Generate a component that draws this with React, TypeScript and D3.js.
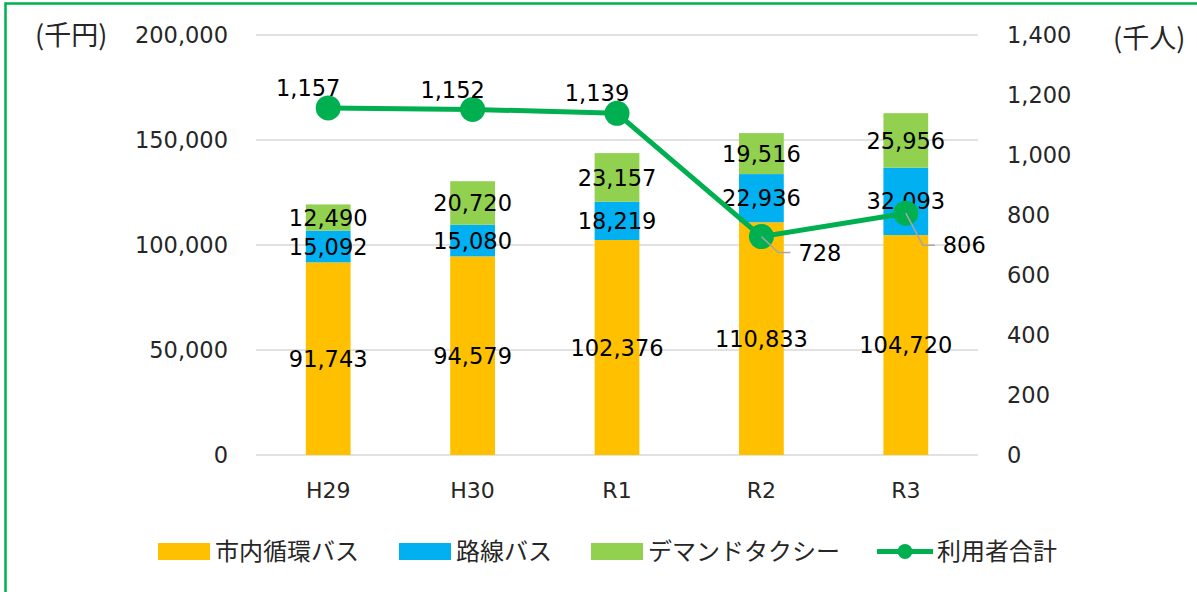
import * as d3 from 'd3'

const categories = ['H29', 'H30', 'R1', 'R2', 'R3']
const junkan = [91743, 94579, 102376, 110833, 104720]
const rosen = [15092, 15080, 18219, 22936, 32093]
const demand = [12490, 20720, 23157, 19516, 25956]
const riyousha = [1157, 1152, 1139, 728, 806]

const leftTicks = [0, 50000, 100000, 150000, 200000]
const rightTicks = [0, 200, 400, 600, 800, 1000, 1200, 1400]

const seriesNames = ['市内循環バス', '路線バス', 'デマンドタクシー']
const seriesColors = ['#FFC000', '#00B0F0', '#92D050']
const lineName = '利用者合計'
const lineColor = '#00B050'

const W = 1197
const H = 592
const numFont = '"DejaVu Sans", Verdana, sans-serif'
const jpFont = '"Noto Sans CJK JP", "DejaVu Sans", sans-serif'
const fmt = d3.format(',')

export default function App() {
  const x = d3.scaleBand<string>()
    .domain(categories)
    .range([256, 978])
    .paddingInner(0.69)
    .paddingOuter(0.345)
  const yL = d3.scaleLinear().domain([0, 200000]).range([455, 35])
  const yR = d3.scaleLinear().domain([0, 1400]).range([455, 35])

  const rows = categories.map((c, i) => ({ cat: c, s0: junkan[i], s1: rosen[i], s2: demand[i] }))
  const stack = d3.stack<any>().keys(['s0', 's1', 's2'])(rows)

  const cx = (c: string) => (x(c) ?? 0) + x.bandwidth() / 2
  const line = d3.line<number>()
    .x((_, i) => cx(categories[i]))
    .y(d => yR(d))

  // R2, R3 labels sit lower right with a leader line
  const leader = [3, 4]

  return (
    <svg width={W} height={H} style={{ position: 'absolute', left: 0, top: 0, background: '#fff' }}>
      <rect x={5.5} y={3.5} width={W + 10} height={H + 10} fill="#fff" stroke="#00B050" strokeWidth={2.5} />

      {leftTicks.map(t => (
        <line key={t} x1={256} x2={978} y1={yL(t)} y2={yL(t)} stroke="#D9D9D9" strokeWidth={1.5} />
      ))}

      {leftTicks.map(t => (
        <text key={t} x={228} y={yL(t)} dy="0.36em" textAnchor="end" fontFamily={numFont} fontSize={22.5} fill="#262626">
          {fmt(t)}
        </text>
      ))}
      {rightTicks.map(t => (
        <text key={t} x={1007} y={yR(t)} dy="0.36em" textAnchor="start" fontFamily={numFont} fontSize={22.5} fill="#262626">
          {fmt(t)}
        </text>
      ))}
      <text x={35} y={35} dy="0.36em" fontFamily={jpFont} fontSize={27} fill="#262626">(千円)</text>
      <text x={1113} y={38} dy="0.36em" fontFamily={jpFont} fontSize={27} fill="#262626">(千人)</text>

      {categories.map(c => (
        <text key={c} x={cx(c)} y={490} dy="0.36em" textAnchor="middle" fontFamily={numFont} fontSize={22} fill="#262626">
          {c}
        </text>
      ))}

      {stack.map((s, si) => (
        <g key={si}>
          {s.map((d, i) => (
            <rect key={i} x={x(categories[i])} width={x.bandwidth()} y={yL(d[1])} height={yL(d[0]) - yL(d[1])} fill={seriesColors[si]} />
          ))}
        </g>
      ))}

      {stack.map((s, si) => (
        <g key={'l' + si}>
          {s.map((d, i) => (
            <text key={i} x={cx(categories[i])} y={(yL(d[0]) + yL(d[1])) / 2} dy="0.36em" textAnchor="middle" fontFamily={numFont} fontSize={22.5} fill="#000">
              {fmt(d[1] - d[0])}
            </text>
          ))}
        </g>
      ))}

      <path d={line(riyousha) ?? ''} fill="none" stroke={lineColor} strokeWidth={5} strokeLinejoin="round" />
      {riyousha.map((v, i) => (
        <circle key={i} cx={cx(categories[i])} cy={yR(v)} r={12.5} fill={lineColor} />
      ))}

      {riyousha.map((v, i) => {
        const px = cx(categories[i])
        const py = yR(v)
        if (leader.includes(i)) {
          const ex = px + 17
          const ey = py + (i === 3 ? 16 : 32)
          return (
            <g key={i}>
              <polyline points={`${px},${py} ${ex},${ey} ${ex + 12},${ey}`} fill="none" stroke="#A6A6A6" strokeWidth={1.5} />
              <text x={ex + 20} y={ey} dy="0.36em" fontFamily={numFont} fontSize={22.5} fill="#000">{fmt(v)}</text>
            </g>
          )
        }
        return (
          <text key={i} x={px - 20} y={py - 20} dy="0.36em" textAnchor="middle" fontFamily={numFont} fontSize={22.5} fill="#000">
            {fmt(v)}
          </text>
        )
      })}

      {/* legend */}
      {[158, 399, 591].map((lx, i) => (
        <g key={i}>
          <rect x={lx} y={543} width={52} height={17} fill={seriesColors[i]} />
          <text x={lx + 57} y={551} dy="0.36em" fontFamily={jpFont} fontSize={24} fill="#262626">{seriesNames[i]}</text>
        </g>
      ))}
      <line x1={877} x2={933} y1={551.5} y2={551.5} stroke={lineColor} strokeWidth={5} />
      <circle cx={905} cy={551.5} r={7.5} fill={lineColor} />
      <text x={937} y={551} dy="0.36em" fontFamily={jpFont} fontSize={24} fill="#262626">{lineName}</text>
    </svg>
  )
}
